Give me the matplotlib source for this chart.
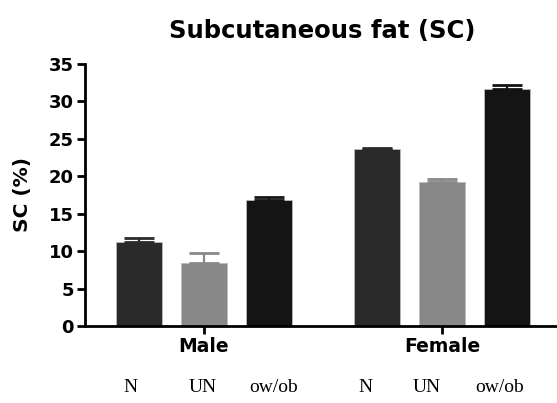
import numpy as np
import matplotlib
matplotlib.use('Agg')
import matplotlib.pyplot as plt

groups = ['Male', 'Female']
series = ['N', 'UN', 'ow/ob']
means = {'N': [11.2, 23.6], 'UN': [8.4, 19.2], 'ow/ob': [16.8, 31.7]}
errs = {'N': [0.5, 0.2], 'UN': [1.4, 0.5], 'ow/ob': [0.4, 0.55]}
colors = {'N': '#2a2a2a', 'UN': '#888888', 'ow/ob': '#141414'}

plt.rcParams['font.family'] = ['DejaVu Sans']

fig = plt.figure(figsize=(5.57, 4.03), dpi=100)
ax = fig.add_axes([85/557, 77/403, 1 - 85/557, 262/403])

x = np.arange(len(groups))
offset, width = 0.273, 0.193
for i, s in enumerate(series):
    xs = x + (i - 1) * offset
    ax.bar(xs, means[s], width, color=colors[s], edgecolor='#bbbbbb', linewidth=0.6, zorder=2)
    ax.errorbar(xs, means[s], yerr=[np.zeros(len(groups)), errs[s]], fmt='none',
                ecolor=colors[s], elinewidth=1.6, capsize=11, capthick=2, zorder=3)

ax.set_xlim(-0.5, 1.483)
ax.set_ylim(0, 35)
ax.set_yticks(range(0, 36, 5))
ax.set_xticks(x)
ax.set_xticklabels(groups, fontsize=13.5, fontweight='bold')
for lab in ax.get_yticklabels():
    lab.set_fontweight('bold')
    lab.set_fontsize(13)
ax.tick_params(axis='both', width=2, length=6, direction='out', pad=2)
for sp in ['top', 'right']:
    ax.spines[sp].set_visible(False)
for sp in ['left', 'bottom']:
    ax.spines[sp].set_linewidth(2)
ax.set_ylabel('SC (%)', fontsize=14.5, fontweight='bold', labelpad=12)
fig.suptitle('Subcutaneous fat (SC)', x=0.579, y=0.952, fontsize=17.5, fontweight='bold')

label_x = [130, 203, 274, 365, 427, 500]
for px, s in zip(label_x, series * 2):
    fig.text(px / 557, 1 - 388 / 403, s, ha='center', va='center',
             fontsize=14, family='Liberation Serif')

fig.savefig('out.png', dpi=100)
